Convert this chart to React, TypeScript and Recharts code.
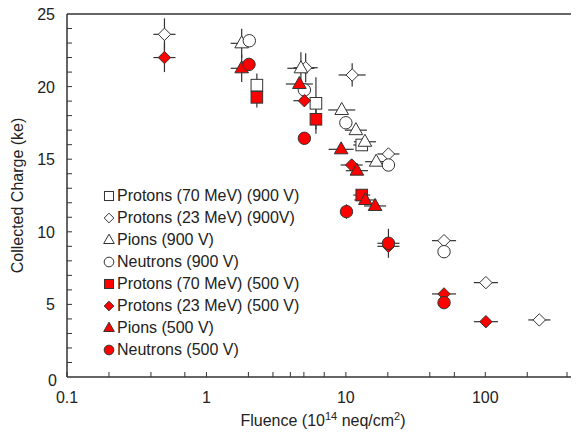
import React from "react";
import { ScatterChart, Scatter, XAxis, YAxis, ErrorBar, ReferenceLine } from "recharts";

// ---- data (x = fluence, y = collected charge, ex = relative x error, ey = y error) ----
type P = { x: number; y: number; ex?: number; ey?: number };

const protons70_900: P[] = [
  { x: 2.3, y: 20.1, ey: 0.8 },
  { x: 6.1, y: 18.85, ey: 1.8 },
  { x: 13.0, y: 15.98, ex: 0.15 },
];
const protons23_900: P[] = [
  { x: 0.5, y: 23.6, ex: 0.2, ey: 1.1 },
  { x: 5.15, y: 21.3, ex: 0.22, ey: 1.0 },
  { x: 11.1, y: 20.8, ex: 0.25, ey: 0.8 },
  { x: 20.2, y: 15.36, ex: 0.2 },
  { x: 50.6, y: 9.39, ex: 0.22 },
  { x: 101, y: 6.5, ex: 0.22 },
  { x: 244, y: 3.93, ex: 0.2 },
];
const pions_900: P[] = [
  { x: 1.79, y: 22.98, ex: 0.2, ey: 1.0 },
  { x: 4.76, y: 21.26, ex: 0.25, ey: 1.1 },
  { x: 9.34, y: 18.39, ex: 0.25 },
  { x: 11.8, y: 17.0, ex: 0.2 },
  { x: 13.7, y: 16.2, ex: 0.2 },
  { x: 16.5, y: 14.83, ex: 0.2 },
];
const neutrons_900: P[] = [
  { x: 2.03, y: 23.16 },
  { x: 5.04, y: 19.77 },
  { x: 10.0, y: 17.51 },
  { x: 20.2, y: 14.6 },
  { x: 50.6, y: 8.63 },
];
const protons70_500: P[] = [
  { x: 2.3, y: 19.26, ey: 0.7 },
  { x: 6.1, y: 17.75, ey: 1.0 },
  { x: 13.0, y: 12.53, ex: 0.15 },
];
const protons23_500: P[] = [
  { x: 0.5, y: 22.0, ex: 0.2, ey: 1.0 },
  { x: 5.04, y: 19.03, ex: 0.2 },
  { x: 11.0, y: 14.6, ex: 0.2 },
  { x: 20.2, y: 9.0, ex: 0.2 },
  { x: 50.6, y: 5.72, ex: 0.22 },
  { x: 101, y: 3.81, ex: 0.22 },
];
const pions_500: P[] = [
  { x: 1.79, y: 21.26, ex: 0.2, ey: 0.95 },
  { x: 4.64, y: 20.18, ex: 0.25 },
  { x: 9.25, y: 15.68, ex: 0.23 },
  { x: 12.0, y: 14.21, ex: 0.2 },
  { x: 13.8, y: 12.19, ex: 0.2 },
  { x: 16.2, y: 11.78, ex: 0.2 },
];
const neutrons_500: P[] = [
  { x: 2.02, y: 21.53 },
  { x: 5.04, y: 16.44 },
  { x: 10.1, y: 11.39, ey: 0.5 },
  { x: 20.2, y: 9.21, ex: 0.2, ey: 1.0 },
  { x: 50.6, y: 5.12 },
];

const xTicks = [
  0.1, 0.2, 0.3, 0.4, 0.5, 0.6, 0.7, 0.8, 0.9,
  1, 2, 3, 4, 5, 6, 7, 8, 9,
  10, 20, 30, 40, 50, 60, 70, 80, 90,
  100, 200, 300, 400,
];
const yTicks = [0, 1, 2, 3, 4, 5, 6, 7, 8, 9, 10, 11, 12, 13, 14, 15, 16, 17, 18, 19, 20, 21, 22, 23, 24, 25];

const RED = "#ff0000";
const WHITE = "#ffffff";
const STROKE = "#333333";
const FONT = "'Liberation Sans', Arial, Helvetica, sans-serif";

type Kind = "square" | "diamond" | "triangle" | "circle";

const series: { name: string; data: P[]; kind: Kind; fill: string }[] = [
  { name: "Protons (70 MeV) (900 V)", data: protons70_900, kind: "square", fill: WHITE },
  { name: "Protons (23 MeV) (900V)", data: protons23_900, kind: "diamond", fill: WHITE },
  { name: "Pions (900 V)", data: pions_900, kind: "triangle", fill: WHITE },
  { name: "Neutrons (900 V)", data: neutrons_900, kind: "circle", fill: WHITE },
  { name: "Protons (70 MeV) (500 V)", data: protons70_500, kind: "square", fill: RED },
  { name: "Protons (23 MeV) (500 V)", data: protons23_500, kind: "diamond", fill: RED },
  { name: "Pions (500 V)", data: pions_500, kind: "triangle", fill: RED },
  { name: "Neutrons (500 V)", data: neutrons_500, kind: "circle", fill: RED },
];

const prep = (d: P[]) =>
  d.map((p) => {
    const ex = p.ex ?? 0;
    const ey = p.ey ?? 0;
    return { x: p.x, y: p.y, errX: [p.x - p.x / (1 + ex), p.x * ex], errY: ey };
  });

function Marker({ cx, cy, kind, fill, s = 1 }: { cx: number; cy: number; kind: Kind; fill: string; s?: number }) {
  const sw = 1;
  if (kind === "square") {
    const h = 5.8 * s;
    return <rect x={cx - h} y={cy - h} width={2 * h} height={2 * h} fill={fill} stroke={STROKE} strokeWidth={sw} />;
  }
  if (kind === "diamond") {
    const h = 6.2 * s;
    return (
      <polygon
        points={`${cx},${cy - h} ${cx + h},${cy} ${cx},${cy + h} ${cx - h},${cy}`}
        fill={fill}
        stroke={STROKE}
        strokeWidth={sw}
      />
    );
  }
  if (kind === "triangle") {
    const w = 6.8 * s;
    return (
      <polygon
        points={`${cx},${cy - 7.5 * s} ${cx + w},${cy + 4.5 * s} ${cx - w},${cy + 4.5 * s}`}
        fill={fill}
        stroke={STROKE}
        strokeWidth={sw}
      />
    );
  }
  return <circle cx={cx} cy={cy} r={6.2 * s} fill={fill} stroke={STROKE} strokeWidth={sw} />;
}

const XTick = (props: any) => {
  const { x, y, payload } = props;
  const v = payload.value;
  const lg = Math.log10(v);
  const major = Math.abs(lg - Math.round(lg)) < 1e-9;
  return (
    <g>
      <line x1={x} y1={y} x2={x} y2={y - 5} stroke={STROKE} strokeWidth={1} />
      {major && (
        <text x={x} y={y + 26} textAnchor="middle" fontSize={16} fontFamily={FONT} fill="#222">
          {String(v)}
        </text>
      )}
    </g>
  );
};

const YTick = (props: any) => {
  const { x, y, payload } = props;
  const v = payload.value;
  const major = v % 5 === 0;
  const isZero = v === 0;
  return (
    <g>
      {!isZero && v !== 25 && <line x1={x} y1={y} x2={x + 5} y2={y} stroke={STROKE} strokeWidth={1} />}
      {major && (
        <text
          x={isZero ? x - 10 : x - 12}
          y={isZero ? y + 9 : y + 6}
          textAnchor="end"
          fontSize={16}
          fontFamily={FONT}
          fill="#222"
        >
          {String(v)}
        </text>
      )}
    </g>
  );
};

const LegendBox = () => (
  <div
    style={{
      position: "absolute",
      left: 103,
      top: 185,
      fontFamily: FONT,
      fontSize: 16,
      color: "#222",
      lineHeight: "22px",
      whiteSpace: "nowrap",
    }}
  >
    {series.map((s) => (
      <div key={s.name} style={{ display: "flex", alignItems: "center", height: 22 }}>
        <svg width={12} height={12} style={{ marginRight: 2 }}>
          <Marker cx={6} cy={6} kind={s.kind} fill={s.fill} s={0.78} />
        </svg>
        <span>{s.name}</span>
      </div>
    ))}
  </div>
);

export default function App() {
  return (
    <div style={{ width: 579, height: 433, position: "relative", margin: "-8px 0 0 -8px" }}>
      <ScatterChart width={579} height={433} margin={{ top: 14, right: 0, bottom: 0, left: 0 }}>
        <XAxis
          type="number"
          dataKey="x"
          scale="log"
          domain={[0.1, 470]}
          allowDataOverflow
          ticks={xTicks}
          tickSize={0}
          tickMargin={0}
          tickLine={false}
          tick={<XTick />}
          height={56}
          axisLine={{ stroke: STROKE, strokeWidth: 1.5 }}
          label={{
            content: (p: any) => {
              const vb = p.viewBox;
              return (
                <text
                  x={vb.x + vb.width / 2}
                  y={vb.y + 49}
                  textAnchor="middle"
                  fontSize={16}
                  fontFamily={FONT}
                  fill="#222"
                >
                  Fluence (10
                  <tspan dy={-6} fontSize={11}>14</tspan>
                  <tspan dy={6}> neq/cm</tspan>
                  <tspan dy={-6} fontSize={11}>2</tspan>
                  <tspan dy={6}>)</tspan>
                </text>
              );
            },
          }}
        />
        <YAxis
          type="number"
          dataKey="y"
          domain={[0, 25]}
          ticks={yTicks}
          interval={0}
          tickSize={0}
          tickMargin={0}
          tickLine={false}
          tick={<YTick />}
          width={67}
          axisLine={{ stroke: STROKE, strokeWidth: 1.5 }}
          label={{
            content: (p: any) => {
              const vb = p.viewBox;
              const cx = vb.x + 17;
              const cy = vb.y + vb.height / 2;
              return (
                <text
                  x={cx}
                  y={cy}
                  transform={`rotate(-90, ${cx}, ${cy})`}
                  textAnchor="middle"
                  dominantBaseline="central"
                  fontSize={16}
                  fontFamily={FONT}
                  fill="#222"
                >
                  Collected Charge (ke)
                </text>
              );
            },
          }}
        />
        <ReferenceLine y={25} stroke={STROKE} strokeWidth={1.5} />
        {series.map((s) => (
          <Scatter
            key={s.name}
            name={s.name}
            data={prep(s.data)}
            isAnimationActive={false}
            shape={(p: any) => <Marker cx={p.cx} cy={p.cy} kind={s.kind} fill={s.fill} />}
          >
            <ErrorBar dataKey="errX" direction="x" width={0} stroke={STROKE} strokeWidth={1.2} />
            <ErrorBar dataKey="errY" direction="y" width={0} stroke={STROKE} strokeWidth={1.2} />
          </Scatter>
        ))}
      </ScatterChart>
      <LegendBox />
    </div>
  );
}
